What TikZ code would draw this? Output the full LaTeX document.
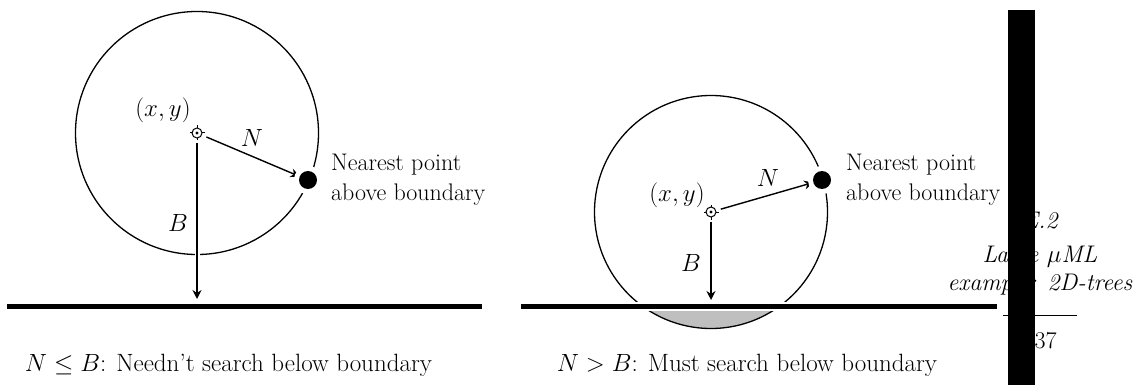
\documentclass[tikz,border=0pt]{standalone}
\usepackage{amsmath}
\usetikzlibrary{arrows.meta}
\begin{document}
\begin{tikzpicture}[x=1pt,y=-1pt,
  every node/.style={font=\fontsize{25}{30}\selectfont, inner sep=0pt},
  sidetext/.style={font=\fontsize{24}{30}\selectfont},
  ring/.style={line width=1.3pt},
  ptr/.style={line width=1.4pt, -{Stealth[length=9pt,width=9pt,inset=3pt]},
     preaction={draw=white, line width=5pt, arrows=-}},
  ctr/.style={circle, minimum size=20pt, inner sep=0pt},
  dot/.style={circle, fill=black, minimum size=18pt, inner sep=0pt,
     preaction={draw=white, line width=10pt}},
  bound/.style={line width=5pt, preaction={draw=white, line width=9pt}},
  margintext/.style={font=\fontsize{24}{29}\selectfont\itshape},
]
\useasboundingbox (0,0) rectangle (1138,385);

% ---------- left picture ----------
\node[ctr] (c1) at (197,133) {};
\draw[ring] (c1.center) circle[radius=121.5pt];
\coordinate (l1a) at (7,306);
\coordinate (l1b) at (482,306);
\draw[bound] (l1a) -- (l1b);
\node[dot] (p1) at (308,180) {};
\coordinate (b1) at (197,299);
\draw[ptr] (c1) -- (p1);
\draw[ptr] (c1) -- (b1);
\node[dot] (p1x) at (p1) {};

% ---------- right picture ----------
\node[ctr] (c2) at (711,212) {};
\begin{scope}
  \clip (580,306) rectangle (850,345);
  \fill[gray!50] (c2.center) circle[radius=116.5pt];
\end{scope}
\draw[ring] (c2.center) circle[radius=116.5pt];
\coordinate (l2a) at (521,306);
\coordinate (l2b) at (997,306);
\draw[bound] (l2a) -- (l2b);
\node[dot] (p2) at (822,180) {};
\coordinate (b2) at (711,300);
\draw[ptr] (c2) -- (p2);
\draw[ptr] (c2) -- (b2);
\node[dot] (p2x) at (p2) {};

% ---------- centre markers ----------
\foreach \c in {c1,c2} {
  \draw[line width=1pt] (\c.center) circle[radius=5pt];
  \fill (\c.center) circle[radius=1.7pt];
  \draw[line width=1pt] (\c.center) ++(0,5) -- ++(0,2.5);
  \draw[line width=1pt] (\c.center) ++(0,-5) -- ++(0,-2.5);
  \draw[line width=1pt] (\c.center) ++(5,0) -- ++(2.5,0);
  \draw[line width=1pt] (\c.center) ++(-5,0) -- ++(-2.5,0);
}

% ---------- labels ----------
\node (xy1) at (163,110) {$(x,y)$};
\node (n1) at (252,138) {$N$};
\node (bb1) at (178,223) {$B$};
\node[sidetext, anchor=base west] (t1a) at (331,170.7) {Nearest point};
\node[sidetext, anchor=base west] (t1b) at (331,200.5) {above boundary};
\node[anchor=base] (cap1) at (228.5,371.5) {$N\le B$: Needn't search below boundary};

\node (xy2) at (677,195) {$(x,y)$};
\node (n2) at (768,178) {$N$};
\node (bb2) at (691,263) {$B$};
\node[sidetext, anchor=base west] (t2a) at (846,170.7) {Nearest point};
\node[sidetext, anchor=base west] (t2b) at (846,200.5) {above boundary};
\node[anchor=base] (cap2) at (747,371.5) {$N>B$: Must search below boundary};

% ---------- margin note ----------
\node[margintext, anchor=base] (m1) at (1040,228) {E.2};
\node[margintext, anchor=base] (m2) at (1040,262) {Large $\mu$ML};
\node[margintext, anchor=base] (m3) at (1040,290) {example: 2D-trees};
\coordinate (ra) at (1003,315);
\coordinate (rb) at (1077,315);
\draw[line width=1pt] (ra) -- (rb);
\node[anchor=base, font=\fontsize{24}{29}\selectfont] (m4) at (1040,348) {137};

% ---------- black bar ----------
\fill[black] (1008,10) rectangle (1035,385);
\end{tikzpicture}
\end{document}
